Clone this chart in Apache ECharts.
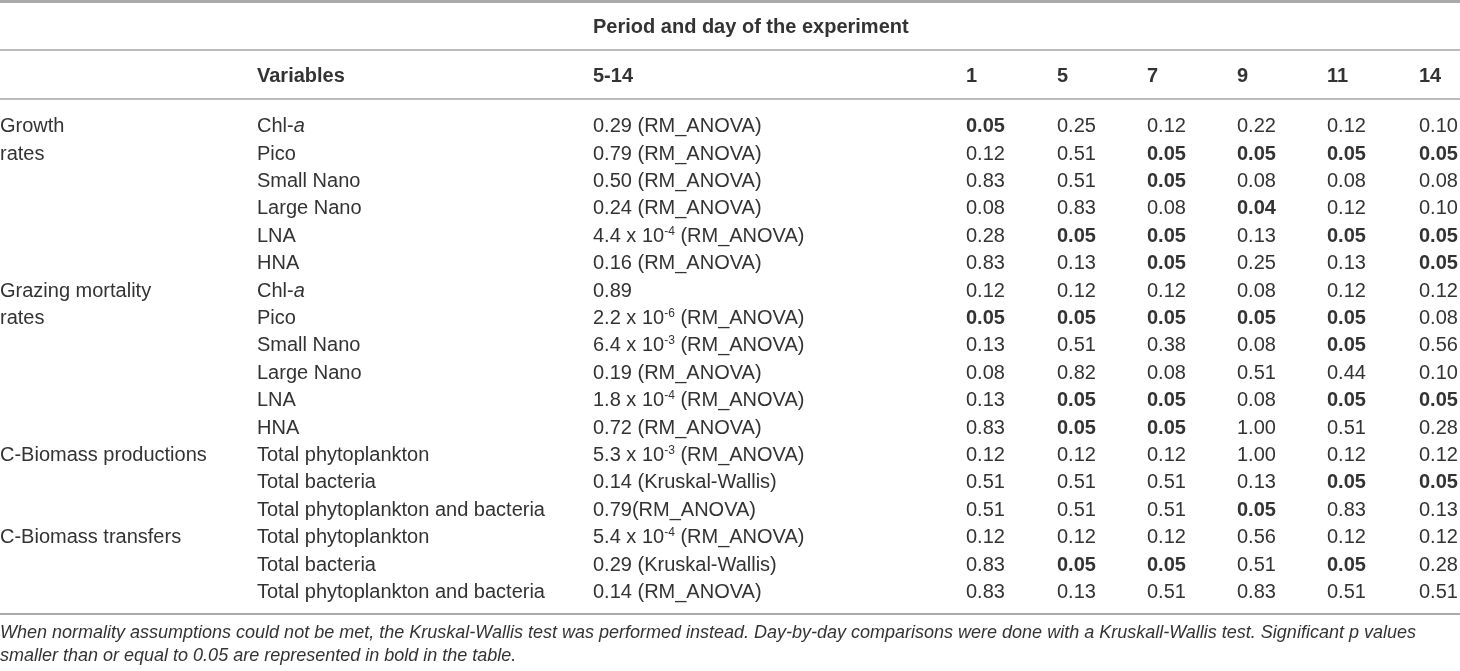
<!DOCTYPE html>
<html><head><meta charset="utf-8">
<script src="https://cdn.jsdelivr.net/npm/echarts@6/dist/echarts.min.js"></script>
<style>html,body{margin:0;padding:0;background:#fff}#c{width:1460px;height:671px}</style>
</head><body><div id="c"></div>
<script>
// ---------- data ----------
const headerTitle = 'Period and day of the experiment';
const columnHeaders = ['Variables', '5-14', '1', '5', '7', '9', '11', '14'];
const groupLabels = ['Growth', 'rates', '', '', '', '', 'Grazing mortality', 'rates', '', '', '', '',
  'C-Biomass productions', '', '', 'C-Biomass transfers', '', ''];
const variables = ['Chl-a', 'Pico', 'Small Nano', 'Large Nano', 'LNA', 'HNA',
  'Chl-a', 'Pico', 'Small Nano', 'Large Nano', 'LNA', 'HNA',
  'Total phytoplankton', 'Total bacteria', 'Total phytoplankton and bacteria',
  'Total phytoplankton', 'Total bacteria', 'Total phytoplankton and bacteria'];
const overallTest = ['0.29 (RM_ANOVA)', '0.79 (RM_ANOVA)', '0.50 (RM_ANOVA)', '0.24 (RM_ANOVA)',
  '4.4 x 10^-4 (RM_ANOVA)', '0.16 (RM_ANOVA)', '0.89', '2.2 x 10^-6 (RM_ANOVA)',
  '6.4 x 10^-3 (RM_ANOVA)', '0.19 (RM_ANOVA)', '1.8 x 10^-4 (RM_ANOVA)', '0.72 (RM_ANOVA)',
  '5.3 x 10^-3 (RM_ANOVA)', '0.14 (Kruskal-Wallis)', '0.79(RM_ANOVA)',
  '5.4 x 10^-4 (RM_ANOVA)', '0.29 (Kruskal-Wallis)', '0.14 (RM_ANOVA)'];
const day1  = [0.05, 0.12, 0.83, 0.08, 0.28, 0.83, 0.12, 0.05, 0.13, 0.08, 0.13, 0.83, 0.12, 0.51, 0.51, 0.12, 0.83, 0.83];
const day5  = [0.25, 0.51, 0.51, 0.83, 0.05, 0.13, 0.12, 0.05, 0.51, 0.82, 0.05, 0.05, 0.12, 0.51, 0.51, 0.12, 0.05, 0.13];
const day7  = [0.12, 0.05, 0.05, 0.08, 0.05, 0.05, 0.12, 0.05, 0.38, 0.08, 0.05, 0.05, 0.12, 0.51, 0.51, 0.12, 0.05, 0.51];
const day9  = [0.22, 0.05, 0.08, 0.04, 0.13, 0.25, 0.08, 0.05, 0.08, 0.51, 0.08, 1.00, 1.00, 0.13, 0.05, 0.56, 0.51, 0.83];
const day11 = [0.12, 0.05, 0.08, 0.12, 0.05, 0.13, 0.12, 0.05, 0.05, 0.44, 0.05, 0.51, 0.12, 0.05, 0.83, 0.12, 0.05, 0.51];
const day14 = [0.10, 0.05, 0.08, 0.10, 0.05, 0.05, 0.12, 0.08, 0.56, 0.10, 0.05, 0.28, 0.12, 0.05, 0.13, 0.12, 0.28, 0.51];
const significance = 0.05;
const footnoteLines = [
  'When normality assumptions could not be met, the Kruskal-Wallis test was performed instead. Day-by-day comparisons were done with a Kruskall-Wallis test. Significant p values',
  'smaller than or equal to 0.05 are represented in bold in the table.'
];

// ---------- layout ----------
const FONT = '"Liberation Sans", Arial, Helvetica, sans-serif';
const colX = { group: 0, variable: 257, overall: 593, days: [966, 1057, 1147, 1237, 1327, 1419] };
const dayCols = [day1, day5, day7, day9, day11, day14];
const REG = '#333', BOLD = '#111';

const rich = {
  n: { fontSize: 20, fontFamily: FONT, color: REG, lineHeight: 24 },
  i: { fontSize: 20, fontFamily: FONT, color: REG, fontStyle: 'italic', lineHeight: 24 },
  sup: { fontSize: 12, fontFamily: FONT, color: REG, verticalAlign: 'top', lineHeight: 24, padding: [1, 0, 0, 0] },
  b: { fontSize: 20, fontFamily: FONT, color: BOLD, fontWeight: 'bold', lineHeight: 24 }
};

function fmtOverall(s) {
  const m = s.match(/^(.*?10)\^(-?\d+)(.*)$/);
  if (m) return '{n|' + m[1] + '}{sup|' + m[2] + '}{n|' + m[3] + '}';
  return '{n|' + s + '}';
}
function fmtVariable(s) {
  if (s === 'Chl-a') return '{n|Chl-}{i|a}';
  return '{n|' + s + '}';
}

// header cells
const headerCells = [];
headerCells.push({ x: colX.overall, row: 0, text: '{b|' + headerTitle + '}' });
headerCells.push({ x: colX.variable, row: 1, text: '{b|' + columnHeaders[0] + '}' });
headerCells.push({ x: colX.overall, row: 1, text: '{b|' + columnHeaders[1] + '}' });
colX.days.forEach((x, k) => headerCells.push({ x: x, row: 1, text: '{b|' + columnHeaders[k + 2] + '}' }));

// body cells
const bodyCells = [];
variables.forEach((v, r) => {
  if (groupLabels[r]) bodyCells.push({ x: colX.group, row: r, text: '{n|' + groupLabels[r] + '}' });
  bodyCells.push({ x: colX.variable, row: r, text: fmtVariable(v) });
  bodyCells.push({ x: colX.overall, row: r, text: fmtOverall(overallTest[r]) });
  dayCols.forEach((col, k) => {
    const val = col[r];
    const t = val.toFixed(2);
    bodyCells.push({ x: colX.days[k], row: r, text: (val <= significance ? '{b|' : '{n|') + t + '}' });
  });
});

function makeRender(cells, dy) {
  return function (params, api) {
    const c = cells[params.dataIndex];
    const p = api.coord([api.value(0), api.value(1)]);
    return {
      type: 'text', x: p[0], y: p[1] + dy,
      style: { text: c.text, rich: rich, align: 'left', verticalAlign: 'middle',
               fontFamily: FONT, fontSize: 20, fill: REG }
    };
  };
}

const hiddenAxis = { axisLine: { show: false }, axisTick: { show: false }, axisLabel: { show: false }, splitLine: { show: false } };

const chart = echarts.init(document.getElementById('c'), null, { renderer: 'canvas' });
chart.setOption({
  animation: false,
  backgroundColor: '#fff',
  title: {
    text: footnoteLines.join('\n'), left: 0, top: 621, padding: 0,
    textStyle: { fontFamily: FONT, fontSize: 18, fontStyle: 'italic', fontWeight: 'normal', color: '#333', lineHeight: 23 }
  },
  grid: [
    { left: 0, right: 0, top: 1, height: 98 },
    { left: 0, right: 0, top: 113, height: 493.2 }
  ],
  xAxis: [
    { gridIndex: 0, type: 'value', min: 0, max: 1460, position: 'top',
      axisLine: { show: true, lineStyle: { color: '#aaa', width: 3 } },
      axisTick: { show: false }, axisLabel: { show: false }, splitLine: { show: false } },
    { gridIndex: 1, type: 'value', min: 0, max: 1460, position: 'bottom', offset: 8,
      axisLine: { show: true, lineStyle: { color: '#aaa', width: 2 } },
      axisTick: { show: false }, axisLabel: { show: false }, splitLine: { show: false } }
  ],
  yAxis: [
    { gridIndex: 0, type: 'category', data: ['title', 'columns'], inverse: true,
      axisLine: { show: false }, axisTick: { show: false }, axisLabel: { show: false },
      splitLine: { show: true, lineStyle: { color: '#bbb', width: 2 } } },
    Object.assign({ gridIndex: 1, type: 'category', data: variables.map((_, i) => i), inverse: true }, hiddenAxis)
  ],
  series: [
    { type: 'custom', xAxisIndex: 0, yAxisIndex: 0, silent: true, clip: false,
      data: headerCells.map(c => [c.x, c.row]), renderItem: makeRender(headerCells, 1.5) },
    { type: 'custom', xAxisIndex: 1, yAxisIndex: 1, silent: true, clip: false,
      data: bodyCells.map(c => [c.x, c.row]), renderItem: makeRender(bodyCells, 0) }
  ]
});
</script>
</body></html>
